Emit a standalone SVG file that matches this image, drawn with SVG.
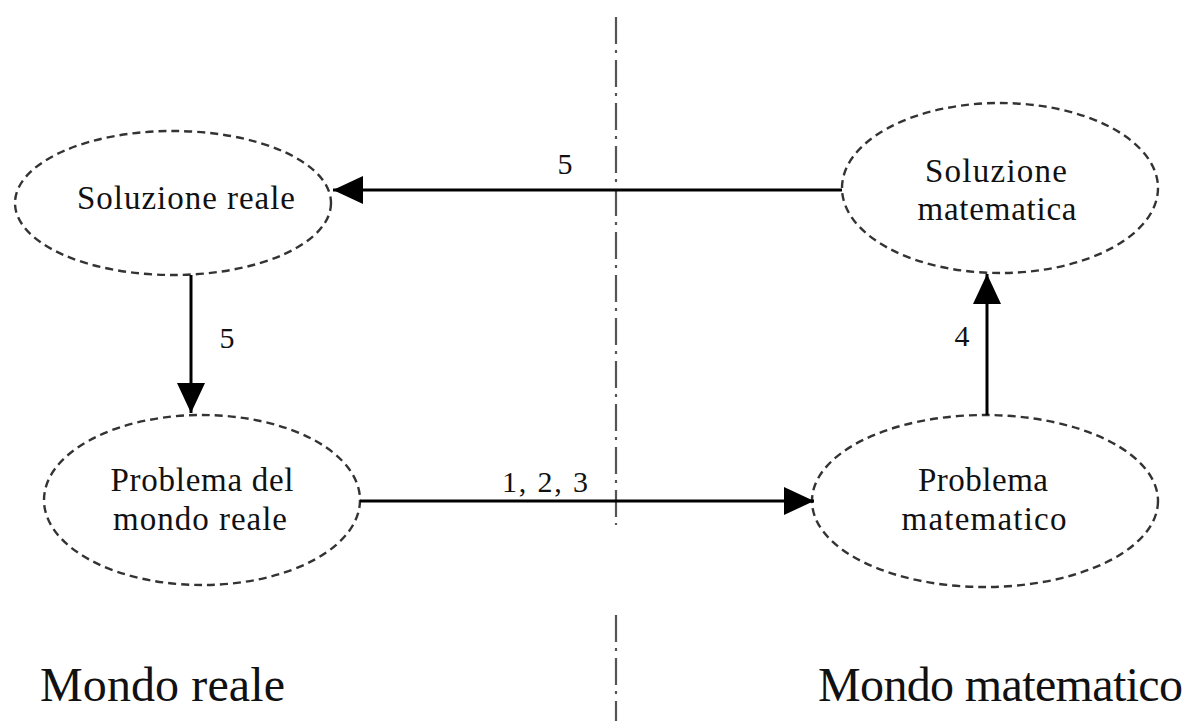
<svg xmlns="http://www.w3.org/2000/svg" width="1189" height="721" viewBox="0 0 1189 721">
  <style>
    .node ellipse { fill: none; stroke: #333; stroke-width: 2.4; stroke-dasharray: 8 5; }
    .node text { font-family: "Liberation Serif", "Times New Roman", serif; font-size: 33px; fill: #111; text-anchor: middle; }
    .edge { stroke: #000; stroke-width: 3; fill: none; marker-end: url(#arrow); }
    .elabel { font-family: "Liberation Serif", "Times New Roman", serif; font-size: 30px; fill: #111; text-anchor: middle; }
    .world { font-family: "Liberation Serif", "Times New Roman", serif; font-size: 48px; fill: #111; }
    .divider { stroke: #555; stroke-width: 2.2; stroke-dasharray: 27 6 3 7; fill: none; }
  </style>
  <defs>
    <marker id="arrow" viewBox="0 0 30 28" markerWidth="30" markerHeight="28" refX="30" refY="14" orient="auto" markerUnits="userSpaceOnUse">
      <path d="M0,0 L30,14 L0,28 Z" fill="#000"/>
    </marker>
  </defs>
  <rect width="1189" height="721" fill="#fff"/>

  <g id="divider">
    <line class="divider" x1="616" y1="17" x2="616" y2="525"/>
    <line class="divider" x1="616" y1="615" x2="616" y2="721"/>
  </g>

  <g id="node-soluzione-reale" class="node">
    <ellipse cx="173" cy="203" rx="158" ry="72"/>
    <text x="186" y="209" textLength="218">Soluzione reale</text>
  </g>
  <g id="node-problema-reale" class="node">
    <ellipse cx="202" cy="500" rx="158" ry="85"/>
    <text x="202" y="491" textLength="183">Problema del</text>
    <text x="200" y="530" textLength="174">mondo reale</text>
  </g>
  <g id="node-soluzione-matematica" class="node">
    <ellipse cx="1000" cy="188" rx="158" ry="85"/>
    <text x="996" y="182" textLength="142">Soluzione</text>
    <text x="997" y="220" textLength="159">matematica</text>
  </g>
  <g id="node-problema-matematico" class="node">
    <ellipse cx="985" cy="501" rx="173" ry="86"/>
    <text x="983" y="491" textLength="130">Problema</text>
    <text x="984" y="530" textLength="165">matematico</text>
  </g>

  <g id="connectors">
    <line class="edge" x1="842" y1="190" x2="333" y2="190"/>
    <line class="edge" x1="191" y1="275" x2="191" y2="413"/>
    <line class="edge" x1="360" y1="501" x2="814" y2="501"/>
    <line class="edge" x1="987" y1="415" x2="987" y2="274"/>
    <text class="elabel" x="565" y="174">5</text>
    <text class="elabel" x="227" y="348">5</text>
    <text class="elabel" x="962" y="346">4</text>
    <text class="elabel" x="545" y="492" textLength="86">1, 2, 3</text>
  </g>

  <g id="labels">
    <text class="world" x="40" y="701" textLength="245">Mondo reale</text>
    <text class="world" x="818" y="701" textLength="365">Mondo matematico</text>
  </g>
</svg>
